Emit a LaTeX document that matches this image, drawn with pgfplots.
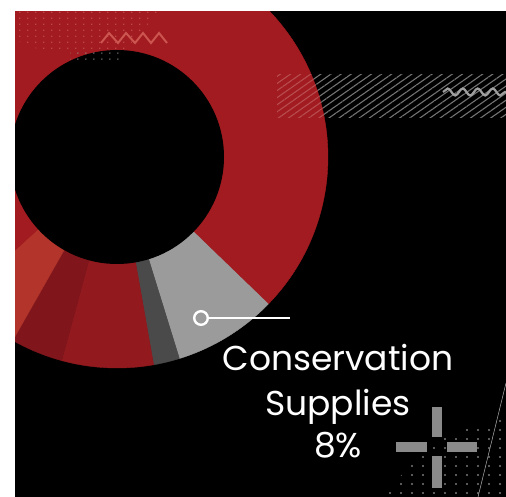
\documentclass[border=0pt]{standalone}
\usepackage{fontspec}
\setmainfont{Poppins}
\usepackage{pgfplots}
\pgfplotsset{compat=1.18}
\usetikzlibrary{patterns.meta,decorations.pathmorphing}

\definecolor{bigred}{HTML}{A11B20}
\definecolor{orangered}{HTML}{B2342A}
\definecolor{darkred}{HTML}{80161B}
\definecolor{midred}{HTML}{921A1F}
\definecolor{dgray}{HTML}{4A4A4A}
\definecolor{lgray}{HTML}{9B9B9B}
\definecolor{zig}{HTML}{CC5550}
\definecolor{crossgray}{HTML}{8A8A8A}
\definecolor{dotgray}{HTML}{7A7A7A}
\definecolor{pinkdot}{HTML}{C85A5A}
\definecolor{hatchgray}{HTML}{747474}
\definecolor{hatchred}{HTML}{B84D50}

\tikzdeclarepattern{
  name=brdots, type=uncolored,
  bounding box={(0,0) and (11bp,8.5bp)},
  tile size={(11bp,8.5bp)},
  code={\fill (5.5bp,4.25bp) circle[radius=1.2bp];}
}
\tikzdeclarepattern{
  name=tldots, type=uncolored,
  bounding box={(0,0) and (8.3bp,5.8bp)},
  tile size={(8.3bp,5.8bp)},
  code={\fill (4.15bp,2.9bp) circle[radius=0.75bp];}
}

\begin{document}
\begin{tikzpicture}
\useasboundingbox (0,0) rectangle (506bp,497bp);
\begin{axis}[
  at={(0,0)}, anchor=south west,
  hide axis, scale only axis,
  width=506bp, height=497bp,
  xmin=0, xmax=506, ymin=0, ymax=497,
  y dir=reverse, clip=true,
  clip bounding box=upper bound,
]
% background
\fill[black] (axis cs:0,0) rectangle (axis cs:506,497);

% hatch band (behind donut)
\fill[pattern={Lines[angle=35,distance=5.8bp,line width=1.1bp]}, pattern color=hatchgray]
  (axis cs:277,75) rectangle (axis cs:506,118);

% donut: shares in percent, clockwise from -44 degrees
\def\cx{117}\def\cy{157}\def\Ro{211}\def\Ri{107}
\xdef\angA{-44}
\foreach \v/\c in {8/lgray,2/dgray,7/midred,4/darkred,5/orangered,74/bigred}{%
  \pgfmathsetmacro\angB{\angA-3.6*\v}%
  \edef\doit{\noexpand\fill[\c, draw=\c, line width=0.4bp] (axis cs:\cx,\cy) -- ++(\angA:\Ro bp) arc[start angle=\angA, end angle=\angB, radius=\Ro bp] -- cycle;}%
  \doit
  \xdef\angA{\angB}%
}
\fill[black] (axis cs:\cx,\cy) circle[radius=\Ri bp];

% faint hatch over the red part
\begin{scope}
\clip (axis cs:\cx,\cy) circle[radius=\Ro bp];
\fill[pattern={Lines[angle=35,distance=5.8bp,line width=1.1bp]}, pattern color=hatchred]
  (axis cs:277,75) rectangle (axis cs:335,118);
\end{scope}

% top-left dots and zigzag
\fill[pattern=tldots, pattern color=pinkdot]
  (axis cs:15,11) -- (axis cs:160,11) -- (axis cs:125,50) -- (axis cs:40,50) -- (axis cs:15,40) -- cycle;
\fill[pattern=tldots, pattern color=gray!80!white]
  (axis cs:70,51) rectangle (axis cs:122,63);
\draw[zig, line width=2bp, line join=miter]
  (axis cs:101,43) -- (axis cs:109,33) -- (axis cs:118,43) -- (axis cs:126,33) -- (axis cs:135,43)
  -- (axis cs:143,33) -- (axis cs:151,43) -- (axis cs:159,33) -- (axis cs:167,43);

% squiggle
\draw[gray!75, line width=2.2bp, decorate, decoration={snake, amplitude=3.5bp, segment length=15bp}]
  (axis cs:443,92) -- (axis cs:506,92);

% bottom-right dots, thin line, crosshair
\fill[pattern=brdots, pattern color=dotgray]
  (axis cs:380,497) -- (axis cs:440,436) -- (axis cs:506,418) -- (axis cs:506,497) -- cycle;
\draw[gray!60, line width=0.5bp] (axis cs:506,383) -- (axis cs:478,497);
\fill[crossgray] (axis cs:432,407) rectangle (axis cs:442,437);
\fill[crossgray] (axis cs:432,456) rectangle (axis cs:442,488);
\fill[crossgray] (axis cs:396,442) rectangle (axis cs:427,452);
\fill[crossgray] (axis cs:447,442) rectangle (axis cs:477,452);

% callout
\addplot[white, line width=2bp, mark=*, mark indices={1},
  mark options={fill=lgray, draw=white, line width=2.4bp}, mark size=6.8bp]
  coordinates {(201,318) (290,318)};

\node[anchor=base, text=white, font=\fontsize{34.5bp}{40bp}\selectfont, inner sep=0pt] at (axis cs:338,370) {Conservation};
\node[anchor=base, text=white, font=\fontsize{34.5bp}{40bp}\selectfont, inner sep=0pt] at (axis cs:338,415) {Supplies};
\node[anchor=base, text=white, font=\fontsize{34.5bp}{40bp}\selectfont, inner sep=0pt] at (axis cs:338,457) {8\%};

% white border
\fill[white] (axis cs:0,0) rectangle (axis cs:15,497);
\fill[white] (axis cs:0,0) rectangle (axis cs:506,11);
\end{axis}
\end{tikzpicture}
\end{document}
